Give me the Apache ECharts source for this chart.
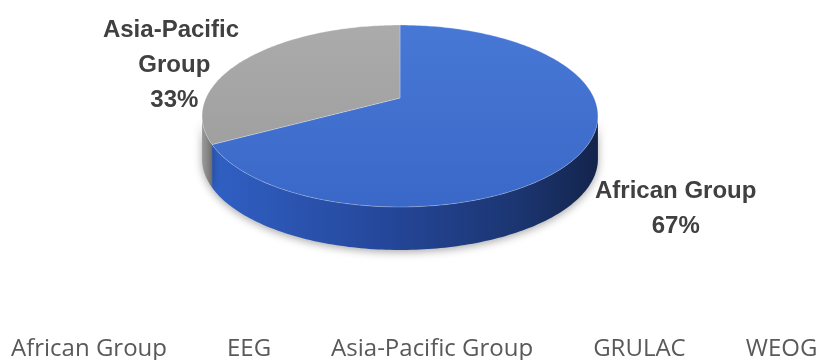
<!DOCTYPE html>
<html><head><meta charset="utf-8">
<script src="https://cdn.jsdelivr.net/npm/echarts@6/dist/echarts.min.js"></script>
<style>html,body{margin:0;padding:0;background:#fff}#c{width:821px;height:360px}</style>
</head><body><div id="c"></div>
<script>
// ---- data ----
const categories = ["African Group", "EEG", "Asia-Pacific Group", "GRULAC", "WEOG"];
const values = [67, 0, 33, 0, 0];

// ---- style ----
const palette = ["#4472C4", "#ED7D31", "#A5A5A5", "#FFC000", "#5B9BD5"];
const topFills = {
  "African Group": ["#4878d6", "#3a68c8"],
  "Asia-Pacific Group": ["#ababab", "#a0a0a0"]
};
const sideFills = {
  "African Group": ["#3060c4", "#25479a", "#1b3570", "#13244c"],
  "Asia-Pacific Group": ["#9a9a9a", "#8a8a8a", "#7a7a7a", "#6a6a6a"]
};
const labelOffsets = { "African Group": [90, 61], "Asia-Pacific Group": [-74, 8] };

// perspective-projected disc geometry
const CX = 400, APEX_Y = 98, KX = 194, KY = 87.4, PERSP = -0.198, DEPTH = 43;
const THETA_R = Math.acos(PERSP) * 180 / Math.PI;   // right silhouette
const THETA_L = 360 - THETA_R;                       // left silhouette

function P(deg, dy) {
  const t = deg * Math.PI / 180;
  const u = Math.sin(t), v = -Math.cos(t);
  const w = 1 + PERSP * v;
  return [CX + KX * u / w, APEX_Y + KY * v / w + (dy || 0)];
}
function arc(a0, a1, dy) {
  const pts = [];
  const n = Math.max(2, Math.ceil((a1 - a0) / 1));
  for (let k = 0; k <= n; k++) pts.push(P(a0 + (a1 - a0) * k / n, dy));
  return pts;
}

const total = values.reduce((a, b) => a + b, 0);

function renderItem(params, api) {
  const i = params.dataIndex;
  const val = api.value(0);
  if (!val) return null;
  let before = 0;
  for (let k = 0; k < i; k++) before += values[k];
  const a0 = before / total * 360;
  const a1 = a0 + val / total * 360;
  const name = categories[i];
  const children = [];

  // side wall
  const s = Math.max(a0, THETA_R), e = Math.min(a1, THETA_L);
  if (s < e) {
    const topEdge = arc(s, e, 0);
    const botEdge = arc(s, e, DEPTH).reverse();
    const sc = sideFills[name];
    children.push({
      type: 'polygon', z2: 1,
      shape: { points: topEdge.concat(botEdge) },
      style: {
        fill: new echarts.graphic.LinearGradient(0, 0, 1, 0, [
          { offset: 0, color: sc[0] }, { offset: 0.45, color: sc[1] },
          { offset: 0.8, color: sc[2] }, { offset: 1, color: sc[3] }
        ]),
        shadowBlur: 8, shadowColor: 'rgba(0,0,0,0.35)', shadowOffsetY: 2
      }
    });
  }
  // top face
  const tc = topFills[name];
  children.push({
    type: 'polygon', z2: 5,
    shape: { points: [[CX, APEX_Y]].concat(arc(a0, a1, 0)) },
    style: {
      fill: new echarts.graphic.LinearGradient(0, 0, 0, 1, [
        { offset: 0, color: tc[0] }, { offset: 1, color: tc[1] }
      ]),
      stroke: 'rgba(255,255,255,0.25)', lineWidth: 1
    }
  });
  // label
  const mid = (a0 + a1) / 2;
  const mp = P(mid, 0);
  const off = labelOffsets[name] || [0, 0];
  children.push({
    type: 'text', z2: 10,
    x: mp[0] + off[0], y: mp[1] + off[1],
    style: {
      text: name + '\n' + Math.round(val / total * 100) + '%',
      fill: '#404040',
      font: 'bold 24px "Liberation Sans", Arial, sans-serif',
      align: 'center', verticalAlign: 'middle',
      lineHeight: 35, width: 175, overflow: 'break'
    }
  });
  return { type: 'group', children: children };
}

const chart = echarts.init(document.getElementById('c'), null, { renderer: 'canvas' });
chart.setOption({
  animation: false,
  color: palette,
  legend: {
    data: categories,
    left: 6, top: 337, width: 815, padding: 0,
    icon: 'none', itemWidth: 0, itemHeight: 0, itemGap: 55,
    textStyle: { color: '#595959', fontSize: 24, fontFamily: '"Open Sans", sans-serif' }
  },
  series: [
    {
      type: 'custom', name: 'pie3d', coordinateSystem: 'none',
      renderItem: renderItem,
      data: values.map((v, i) => ({ name: categories[i], value: v })),
      silent: true
    },
    {
      type: 'pie', radius: [0, 0], center: [CX, 116], silent: true,
      label: { show: false }, labelLine: { show: false },
      data: values.map((v, i) => ({ name: categories[i], value: v }))
    }
  ]
});
</script>
</body></html>
